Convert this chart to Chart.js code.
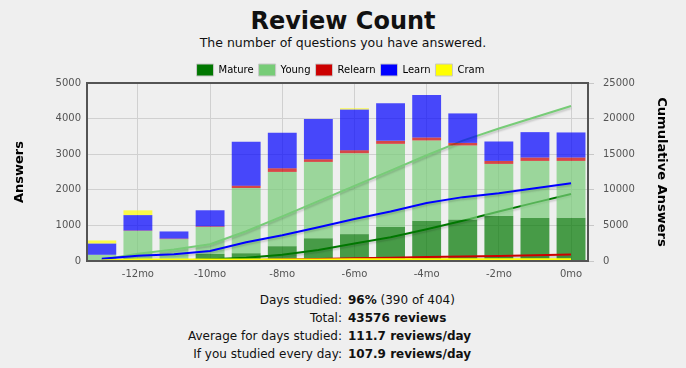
<!DOCTYPE html>
<html>
<head>
<meta charset="utf-8">
<title>Review Count</title>
<script src="https://cdn.jsdelivr.net/npm/chart.js@4.4.1/dist/chart.umd.min.js"></script>
<style>
    html, body { margin: 0; padding: 0; }
    body { width: 686px; height: 368px; background: #efefef; font-family: "DejaVu Sans", sans-serif; position: relative; overflow: hidden; color: #111; }
    #title { position: absolute; left: 0; top: 6px; width: 686px; text-align: center; font-size: 24px; font-weight: bold; line-height: 30px; }
    #subtitle { position: absolute; left: 0; top: 35px; width: 686px; text-align: center; font-size: 12.5px; line-height: 16px; }
    #chartBox { position: absolute; left: 0; top: 59px; width: 686px; height: 229px; }
    #summary { position: absolute; left: 0; top: 291px; width: 686px; font-size: 12px; }
    #summary div { height: 18px; line-height: 18px; white-space: nowrap; }
    #summary .k { display: inline-block; width: 342px; text-align: right; }
    #summary .v { padding-left: 6px; }
</style>
</head>
<body>
<div id="title">Review Count</div>
<div id="subtitle">The number of questions you have answered.</div>
<div id="chartBox"><canvas id="reviewChart"></canvas></div>
<div id="summary">
    <div><span class="k">Days studied:</span><span class="v"><b>96%</b> (390 of 404)</span></div>
    <div><span class="k">Total:</span><span class="v"><b>43576 reviews</b></span></div>
    <div><span class="k">Average for days studied:</span><span class="v"><b>111.7 reviews/day</b></span></div>
    <div><span class="k">If you studied every day:</span><span class="v"><b>107.9 reviews/day</b></span></div>
</div>
<script>
// months back from today, one bar per month
const months = [-13, -12, -11, -10, -9, -8, -7, -6, -5, -4, -3, -2, -1, 0];
const monthTicks = [-12, -10, -8, -6, -4, -2, 0];

// answers per month, by card type
const matureCounts  = [0, 10, 20, 200, 220, 417, 640, 755, 953, 1132, 1169, 1262, 1206, 1216];
const youngCounts   = [175, 835, 595, 755, 1830, 2085, 2143, 2273, 2337, 2254, 2076, 1465, 1605, 1595];
const relearnCounts = [0, 12, 15, 20, 67, 104, 76, 85, 85, 84, 73, 84, 96, 96];
const learnCounts   = [318, 433, 200, 450, 1230, 994, 1127, 1146, 1053, 1192, 828, 546, 713, 704];
const cramCounts    = [84, 133, 0, 0, 0, 0, 0, 30, 0, 0, 0, 0, 0, 0];

// running totals (right axis)
const cumMature  = [0, 10, 30, 230, 460, 880, 1560, 2450, 3350, 4450, 5650, 6950, 8200, 9420];
const cumYoung   = [175, 1010, 1600, 2350, 4180, 6270, 8420, 10550, 12700, 14850, 16900, 18600, 20200, 21760];
const cumRelearn = [0, 10, 25, 45, 110, 220, 295, 380, 465, 550, 620, 705, 800, 900];
const cumLearn   = [318, 750, 950, 1400, 2630, 3620, 4750, 5900, 6950, 8140, 8970, 9520, 10230, 10930];
const cumCram    = [85, 215, 215, 215, 215, 215, 215, 245, 245, 245, 245, 245, 245, 245];

const seriesNames = ['Mature', 'Young', 'Relearn', 'Learn', 'Cram'];
const seriesColors = ['#007700', '#77cc77', '#cc0000', '#0000ff', '#ffff00'];
const barFills = ['rgba(0,119,0,0.7)', 'rgba(119,204,119,0.7)', 'rgba(204,0,0,0.7)', 'rgba(0,0,255,0.7)', 'rgba(255,255,0,0.7)'];

const barCounts = [matureCounts, youngCounts, relearnCounts, learnCounts, cramCounts];
const cumCounts = [cumMature, cumYoung, cumRelearn, cumLearn, cumCram];

function points(values) {
    return months.map(function (m, i) { return {x: m, y: values[i]}; });
}

// bars and running totals are interleaved, like the original plot
const datasets = [];
seriesNames.forEach(function (name, i) {
    datasets.push({
        type: 'bar',
        label: name,
        data: points(barCounts[i]),
        backgroundColor: barFills[i],
        borderWidth: 0,
        yAxisID: 'y',
        categoryPercentage: 0.8,
        barPercentage: 1
    });
    datasets.push({
        type: 'line',
        label: name + ' total',
        data: points(cumCounts[i]),
        borderColor: seriesColors[i],
        borderWidth: 2,
        pointRadius: 0,
        fill: false,
        tension: 0,
        yAxisID: 'y1'
    });
});

// draw datasets first to last so later bars sit over earlier lines
const layerPlugin = {
    id: 'layerOrder',
    beforeDatasetsDraw(chart) {
        const ctx = chart.ctx, a = chart.chartArea;
        ctx.save();
        ctx.beginPath();
        ctx.rect(a.left, a.top, a.right - a.left, a.bottom - a.top);
        ctx.clip();
        chart.data.datasets.forEach(function (ds, i) {
            const meta = chart.getDatasetMeta(i);
            if (!meta.visible) return;
            if (ds.type === 'line') {
                ctx.save();
                ctx.shadowColor = 'rgba(0,0,0,0.18)';
                ctx.shadowOffsetY = 2;
                ctx.shadowBlur = 2;
                meta.controller.draw();
                ctx.restore();
            } else {
                meta.controller.draw();
            }
        });
        ctx.restore();
        return false;
    }
};

const framePlugin = {
    id: 'frame',
    afterDraw(chart) {
        const ctx = chart.ctx, a = chart.chartArea;
        ctx.save();
        ctx.strokeStyle = '#545454';
        ctx.lineWidth = 2;
        ctx.strokeRect(a.left, a.top, a.right - a.left, a.bottom - a.top);
        ctx.restore();
    }
};

function plainNumber(v) {
    return String(v);
}

Chart.defaults.font.family = '"DejaVu Sans", sans-serif';
Chart.defaults.color = '#545454';

new Chart(document.getElementById('reviewChart'), {
    type: 'bar',
    data: {datasets: datasets},
    options: {
        responsive: true,
        maintainAspectRatio: false,
        animation: false,
        layout: {padding: {left: 8, right: 13, top: 0, bottom: 0}},
        plugins: {
            tooltip: {enabled: false},
            legend: {
                position: 'top',
                maxHeight: 24,
                labels: {
                    boxWidth: 17,
                    boxHeight: 12,
                    padding: 5,
                    font: {size: 10},
                    color: '#545454',
                    generateLabels: function () {
                        return seriesNames.map(function (n, i) {
                            return {text: n, fillStyle: seriesColors[i], strokeStyle: '#c8c8c8', lineWidth: 1, datasetIndex: i * 2, hidden: false};
                        });
                    }
                }
            }
        },
        scales: {
            x: {
                type: 'linear',
                min: -13.41,
                max: 0.47,
                offset: false,
                stacked: true,
                afterBuildTicks: function (s) { s.ticks = monthTicks.map(function (v) { return {value: v}; }); },
                afterFit: function (s) { s.height = 27; },
                grid: {color: '#d0d0d0', drawTicks: false, offset: false},
                border: {display: false},
                ticks: {font: {size: 10}, padding: 7, maxRotation: 0, callback: function (v) { return v + 'mo'; }}
            },
            y: {
                position: 'left',
                min: 0,
                max: 5000,
                stacked: true,
                afterFit: function (s) { s.width = 79; },
                grid: {color: '#d0d0d0', drawTicks: false},
                border: {display: false},
                ticks: {stepSize: 1000, font: {size: 10}, padding: 6, callback: plainNumber},
                title: {display: true, text: 'Answers', color: '#000', font: {size: 13, weight: 'bold'}}
            },
            y1: {
                position: 'right',
                min: 0,
                max: 25000,
                afterFit: function (s) { s.width = 85; },
                grid: {drawOnChartArea: false, drawTicks: true, tickLength: 6, color: '#c8c8c8'},
                border: {display: false},
                ticks: {stepSize: 5000, font: {size: 10}, padding: 9, callback: plainNumber},
                title: {display: true, text: 'Cumulative Answers', color: '#000', font: {size: 13, weight: 'bold'}}
            }
        }
    },
    plugins: [layerPlugin, framePlugin]
});
</script>
</body>
</html>
